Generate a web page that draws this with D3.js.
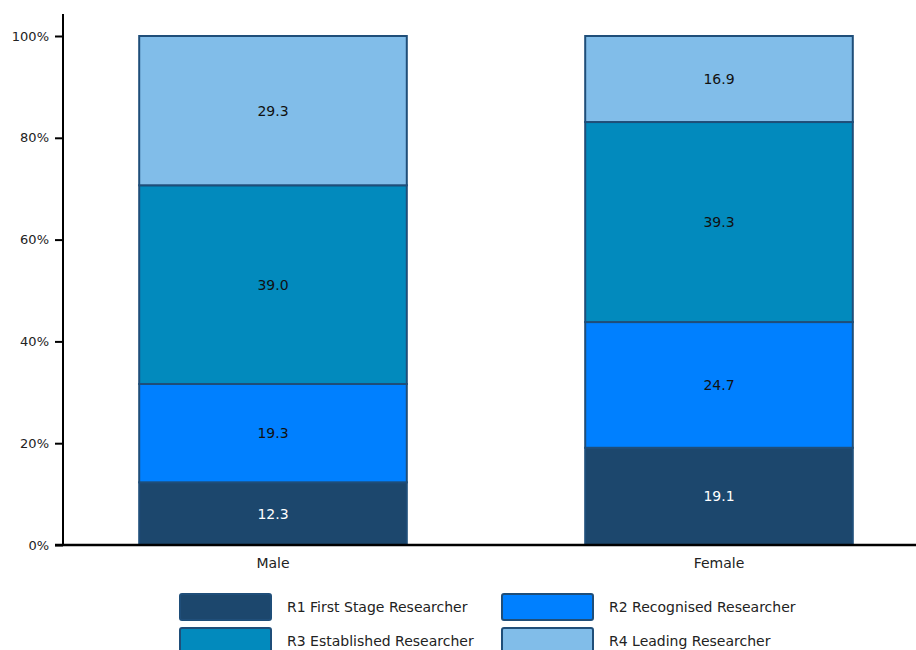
<!DOCTYPE html>
<html>
<head>
<meta charset="utf-8">
<script src="https://cdn.jsdelivr.net/npm/d3@7"></script>
<style>
  body { margin: 0; background: #fff; }
  svg { display: block; font-family: "DejaVu Sans", sans-serif; }
</style>
</head>
<body>
<div class="chartDiv"></div>
<script>
"use strict";

// Data
var genders = ["Male", "Female"];
var stages = ["R1 First Stage Researcher", "R2 Recognised Researcher", "R3 Established Researcher", "R4 Leading Researcher"];
var r1Values = [12.3, 19.1];
var r2Values = [19.3, 24.7];
var r3Values = [39.0, 39.3];
var r4Values = [29.3, 16.9];
var yTicks = [0, 0.2, 0.4, 0.6, 0.8, 1];

var colors = ["#1c476d", "#0080ff", "#028abd", "#81bde9"];
var labelColors = ["#ffffff", "#111111", "#111111", "#111111"];

var width = 916, height = 650;

var rows = genders.map(function(g, i) {
    return { gender: g, r1: r1Values[i], r2: r2Values[i], r3: r3Values[i], r4: r4Values[i] };
});
var keys = ["r1", "r2", "r3", "r4"];

var stack = d3.stack().keys(keys).offset(d3.stackOffsetExpand);
var series = stack(rows);

var x = d3.scaleBand().domain(genders).range([50, 942]).paddingInner(0.4).paddingOuter(0.2);
var y = d3.scaleLinear().domain([0, 1]).range([545, 36]);

var svg = d3.select(".chartDiv").append("svg")
    .attr("width", width)
    .attr("height", height);

// bars
var layer = svg.selectAll(".layer")
    .data(series).enter()
    .append("g")
    .attr("class", "layer")
    .attr("fill", function(d, i) { return colors[i]; });

layer.selectAll("rect")
    .data(function(d) { return d; }).enter()
    .append("rect")
    .attr("x", function(d) { return x(d.data.gender); })
    .attr("width", x.bandwidth())
    .attr("y", function(d) { return y(d[1]); })
    .attr("height", function(d) { return y(d[0]) - y(d[1]); })
    .attr("stroke", "#1f4e79")
    .attr("stroke-width", 2);

// value labels
layer.selectAll("text")
    .data(function(d) { return d.map(function(p) { return { p: p, key: d.key, idx: d.index }; }); }).enter()
    .append("text")
    .attr("x", function(d) { return x(d.p.data.gender) + x.bandwidth() / 2; })
    .attr("y", function(d) { return (y(d.p[0]) + y(d.p[1])) / 2; })
    .attr("text-anchor", "middle")
    .attr("dy", "0.35em")
    .attr("font-size", 14)
    .attr("fill", function(d) { return labelColors[d.idx]; })
    .text(function(d) { return d.p.data[d.key].toFixed(1); });

// y axis
var yAxis = d3.axisLeft(y).tickValues(yTicks).tickFormat(d3.format(".0%")).tickSize(8).tickPadding(6);
var gy = svg.append("g").attr("transform", "translate(63,0)").call(yAxis);
gy.select(".domain").remove();
gy.selectAll(".tick line").attr("stroke", "#000").attr("stroke-width", 2);
gy.selectAll(".tick text").attr("font-size", 13).attr("fill", "#222").attr("font-family", "DejaVu Sans, sans-serif");
svg.append("line").attr("x1", 63).attr("x2", 63).attr("y1", 14).attr("y2", 546)
    .attr("stroke", "#000").attr("stroke-width", 2);

// x axis
var xAxis = d3.axisBottom(x).tickSize(0).tickPadding(13);
var gx = svg.append("g").attr("transform", "translate(0,545)").call(xAxis);
gx.select(".domain").remove();
gx.selectAll(".tick text").attr("font-size", 14).attr("fill", "#222").attr("font-family", "DejaVu Sans, sans-serif");
svg.append("line").attr("x1", 55).attr("x2", 916).attr("y1", 545).attr("y2", 545)
    .attr("stroke", "#000").attr("stroke-width", 2.5);

// legend
var legend = svg.selectAll(".legendItem")
    .data(stages).enter()
    .append("g")
    .attr("class", "legendItem")
    .attr("transform", function(d, i) {
        return "translate(" + (i % 2 === 0 ? 180 : 502) + "," + (i < 2 ? 594 : 628) + ")";
    });

legend.append("rect")
    .attr("width", 91)
    .attr("height", 26)
    .attr("rx", 2)
    .attr("fill", function(d, i) { return colors[i]; })
    .attr("stroke", "#1f4e79")
    .attr("stroke-width", 2);

legend.append("text")
    .attr("x", 107)
    .attr("y", 13)
    .attr("dy", "0.35em")
    .attr("font-size", 14)
    .attr("fill", "#222")
    .text(function(d) { return d; });
</script>
</body>
</html>
